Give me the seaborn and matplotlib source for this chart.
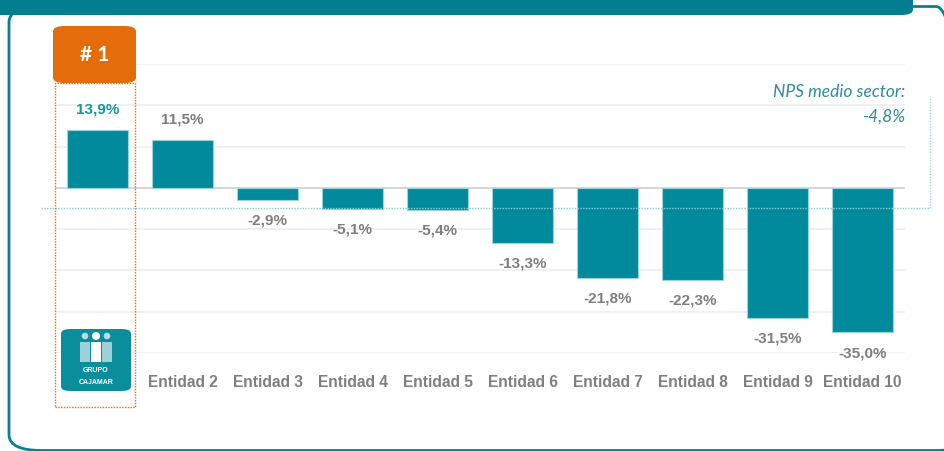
import matplotlib
matplotlib.use("Agg")
import matplotlib.pyplot as plt
import pandas as pd
import seaborn as sns
from matplotlib.patches import FancyBboxPatch, Rectangle, Ellipse

# datos
entidades = ["Grupo Cajamar", "Entidad 2", "Entidad 3", "Entidad 4", "Entidad 5",
             "Entidad 6", "Entidad 7", "Entidad 8", "Entidad 9", "Entidad 10"]
nps = [13.9, 11.5, -2.9, -5.1, -5.4, -13.3, -21.8, -22.3, -31.5, -35.0]
etiquetas = ["", "Entidad 2", "Entidad 3", "Entidad 4", "Entidad 5",
             "Entidad 6", "Entidad 7", "Entidad 8", "Entidad 9", "Entidad 10"]
nps_medio = -4.8

TEAL = "#008A9B"
GRIS = "#7F7F7F"
NARANJA = "#E46C0A"

sns.set_style("white")
plt.rcParams["font.family"] = ["Liberation Sans", "DejaVu Sans"]

df = pd.DataFrame({"entidad": entidades, "nps": nps})

fig = plt.figure(figsize=(9.44, 4.51), dpi=100)
W, H = 944, 451

# marco y cabecera
fig.patches.append(FancyBboxPatch((9 / W, 0.5 / H), 960 / W, 444 / H,
                                  boxstyle="round,pad=0,rounding_size=0.035",
                                  transform=fig.transFigure, fill=False,
                                  edgecolor="#0A7F8E", linewidth=2, zorder=0))
fig.patches.append(FancyBboxPatch((-20 / W, 1 - 15 / H), 933 / W, 40 / H,
                                  boxstyle="round,pad=0,rounding_size=0.012",
                                  transform=fig.transFigure, facecolor="#027E8E",
                                  edgecolor="none", zorder=1))

ax = fig.add_axes([55 / W, 1 - 353 / H, 850 / W, 289 / H])
sns.barplot(data=df, x="entidad", y="nps", color=TEAL, saturation=1,
            width=0.72, edgecolor="#9CD3DA", linewidth=0.8, ax=ax, zorder=3)

ax.set_xlim(-0.5, 9.5)
ax.set_ylim(-40, 30)
ax.set_yticks(range(-40, 31, 10))
ax.set_yticklabels([])
ax.yaxis.grid(True, color="#EDEDED", linewidth=1.2)
ax.axhline(0, color="#D4D4D4", linewidth=1.2, zorder=2)
sns.despine(ax=ax, left=True, bottom=True, top=True, right=True)
ax.tick_params(length=0, pad=16)
ax.set_xticks(range(len(etiquetas)))
ax.set_xticklabels(etiquetas, fontsize=11.2, fontweight="bold", color=GRIS)
ax.set_xlabel("")
ax.set_ylabel("")

# etiquetas de valores
for i, v in enumerate(nps):
    txt = f"{v:.1f}%".replace(".", ",")
    off = 15 if v > 0 else -15
    ax.annotate(txt, (i, v), xytext=(0, off), textcoords="offset points",
                ha="center", va="center", fontsize=11, fontweight="bold",
                color="#14989E" if i == 0 else GRIS, annotation_clip=False)

# linea NPS medio del sector
ax.plot([-0.66, 9.79], [nps_medio, nps_medio], color="#8CCBD6", linestyle=(0, (1, 1)),
        linewidth=1, clip_on=False, zorder=4)
ax.plot([9.79, 9.79], [nps_medio, 22.3], color="#A6D5DE", linestyle=(0, (1, 1)),
        linewidth=1, clip_on=False, zorder=4)
ax.text(905 / W, 1 - 92 / H, "NPS medio sector:", transform=fig.transFigure,
        ha="right", va="center", fontsize=12.5, style="italic", color="#2F8A9C",
        family=["Lato", "DejaVu Sans"])
ax.text(905 / W, 1 - 117 / H, "-4,8%", transform=fig.transFigure,
        ha="right", va="center", fontsize=12.5, style="italic", color="#2F8A9C",
        family=["Lato", "DejaVu Sans"])

# recuadro #1 y marco punteado
fig.patches.append(Rectangle((55 / W, 1 - 407 / H), 80 / W, 324 / H,
                             transform=fig.transFigure, fill=False,
                             edgecolor=NARANJA, linestyle=(0, (1, 1)),
                             linewidth=1, zorder=5))
fig.patches.append(FancyBboxPatch((53 / W, 1 - 83 / H), 83 / W, 57 / H,
                                  boxstyle="round,pad=0,rounding_size=0.012",
                                  transform=fig.transFigure, facecolor=NARANJA,
                                  edgecolor="none", zorder=6))
fig.text(94.5 / W, 1 - 55 / H, "# 1", ha="center", va="center", fontsize=15,
         fontweight="bold", color="white", family=["Lato", "DejaVu Sans"], zorder=7)

# logo Grupo Cajamar
fig.patches.append(FancyBboxPatch((61 / W, 1 - 391 / H), 70 / W, 62 / H,
                                  boxstyle="round,pad=0,rounding_size=0.01",
                                  transform=fig.transFigure, facecolor="#0B8E9C",
                                  edgecolor="none", zorder=6))
for cx, r, a in [(85, 3.3, 0.7), (96, 4, 1.0), (107, 3.3, 0.7)]:
    fig.patches.append(Ellipse((cx / W, 1 - 336 / H), 2 * r / W, 2 * r / H,
                               transform=fig.transFigure, facecolor="white",
                               alpha=a, edgecolor="none", zorder=7))
for x0, w, a in [(80, 10, 0.6), (91, 10, 1.0), (102, 10, 0.6)]:
    fig.patches.append(Rectangle((x0 / W, 1 - 362 / H), w / W, 20 / H,
                                 transform=fig.transFigure, facecolor="white",
                                 alpha=a, edgecolor="none", zorder=7))
fig.text(96 / W, 1 - 370 / H, "GRUPO", ha="center", va="center", fontsize=5,
         fontweight="bold", color="white", zorder=8)
fig.text(96 / W, 1 - 382 / H, "CAJAMAR", ha="center", va="center", fontsize=5,
         fontweight="bold", color="white", zorder=8)

fig.savefig("out.png", dpi=100)
